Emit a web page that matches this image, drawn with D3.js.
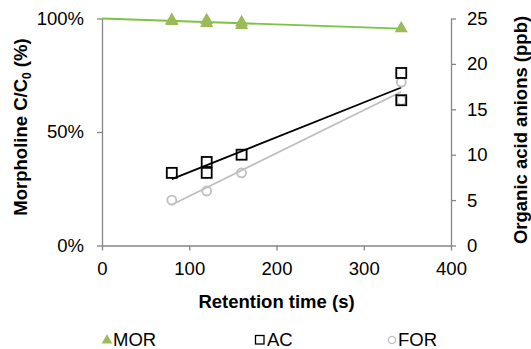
<!DOCTYPE html>
<html>
<head>
<meta charset="utf-8">
<script src="https://cdn.jsdelivr.net/npm/d3@7"></script>
<style>
body { margin: 0; background: #fff; }
svg text { font-family: "Liberation Sans", Arial, sans-serif; fill: #000; }
</style>
</head>
<body>
<div class="chart"></div>
<script>
// data
let morTime = [80, 80, 120, 120, 160, 160, 343];
let morValue = [0.993, 0.988, 0.992, 0.979, 0.983, 0.970, 0.956];
let acTime = [80, 120, 120, 160, 343, 343];
let acValue = [8, 9.2, 8, 10, 19, 16];
let forTime = [80, 120, 160, 343, 343];
let forValue = [5, 6, 8, 18, 16];

let xTicks = [0, 100, 200, 300, 400];
let leftTicks = [0, 0.5, 1];
let rightTicks = [0, 5, 10, 15, 20, 25];

let width = 531, height = 349;
let margin = { left: 102, right: 80, top: 18.5, bottom: 103.5 };

let svg = d3.select(".chart").append("svg").attr("width", width).attr("height", height);

let x = d3.scaleLinear().domain([0, 400]).range([margin.left, width - margin.right]);
let yL = d3.scaleLinear().domain([0, 1]).range([height - margin.bottom, margin.top]);
let yR = d3.scaleLinear().domain([0, 25]).range([height - margin.bottom, margin.top]);

let axisColor = "#868686";
let fs = 18.5;

function styleAxis(g) {
	g.selectAll("path, line").attr("stroke", axisColor).attr("stroke-width", 1.3);
	g.selectAll("text").attr("font-size", fs).attr("fill", "#000");
}

svg.append("g")
	.attr("transform", "translate(0," + yL(0) + ")")
	.call(d3.axisBottom(x).tickValues(xTicks).tickSize(5).tickSizeOuter(0).tickPadding(11))
	.call(styleAxis);

svg.append("g")
	.attr("transform", "translate(" + x(0) + ",0)")
	.call(d3.axisLeft(yL).tickValues(leftTicks).tickFormat(d3.format(".0%")).tickSize(5).tickSizeOuter(0).tickPadding(13))
	.call(styleAxis);

svg.append("g")
	.attr("transform", "translate(" + x(400) + ",0)")
	.call(d3.axisRight(yR).tickValues(rightTicks).tickSize(5).tickSizeOuter(0).tickPadding(11))
	.call(styleAxis);

// linear trendlines (least squares)
function fit(xs, ys) {
	let mx = d3.mean(xs), my = d3.mean(ys);
	let sxy = d3.sum(xs, (v, i) => (v - mx) * (ys[i] - my));
	let sxx = d3.sum(xs, v => (v - mx) * (v - mx));
	let b = sxy / sxx;
	return t => my + b * (t - mx);
}
// MOR trend with intercept fixed at 100%
let morSlope = d3.sum(morTime, (v, i) => v * (morValue[i] - 1)) / d3.sum(morTime, v => v * v);
let morFit = t => 1 + morSlope * t;
let acFit = fit(acTime, acValue);
let forFit = fit(forTime, forValue);

let line = d3.line();
function trend(f, y, x0, x1, color) {
	svg.append("path")
		.attr("fill", "none")
		.attr("stroke", color)
		.attr("stroke-width", 1.8)
		.attr("d", line([[x(x0), y(f(x0))], [x(x1), y(f(x1))]]));
}
trend(morFit, yL, 0, d3.max(morTime), "#7ec242");
trend(forFit, yR, d3.min(forTime), d3.max(forTime), "#bfbfbf");
trend(acFit, yR, d3.min(acTime), d3.max(acTime), "#000");

// markers
let tri = d3.symbol().type(d3.symbolTriangle).size(75);
svg.append("g").selectAll("path").data(morTime).join("path")
	.attr("d", tri)
	.attr("transform", (d, i) => "translate(" + x(d) + "," + yL(morValue[i]) + ")")
	.attr("fill", "#9bbb59");

svg.append("g").selectAll("circle").data(forTime).join("circle")
	.attr("cx", d => x(d))
	.attr("cy", (d, i) => yR(forValue[i]))
	.attr("r", 4.5)
	.attr("fill", "none")
	.attr("stroke", "#bfbfbf")
	.attr("stroke-width", 1.8);

svg.append("g").selectAll("rect").data(acTime).join("rect")
	.attr("x", d => x(d) - 5)
	.attr("y", (d, i) => yR(acValue[i]) - 5)
	.attr("width", 10)
	.attr("height", 10)
	.attr("fill", "none")
	.attr("stroke", "#000")
	.attr("stroke-width", 1.8);

// axis titles
svg.append("text")
	.attr("x", (x(0) + x(400)) / 2)
	.attr("y", 307.5)
	.attr("text-anchor", "middle")
	.attr("font-size", fs)
	.attr("font-weight", "bold")
	.text("Retention time (s)");

let leftTitle = svg.append("text")
	.attr("transform", "translate(27,127) rotate(-90)")
	.attr("text-anchor", "middle")
	.attr("font-size", fs)
	.attr("font-weight", "bold");
leftTitle.append("tspan").text("Morpholine C/C");
leftTitle.append("tspan").attr("font-size", 12).attr("dy", 4).text("0");
leftTitle.append("tspan").attr("dy", -4).text(" (%)");

svg.append("text")
	.attr("transform", "translate(527,130) rotate(-90)")
	.attr("text-anchor", "middle")
	.attr("font-size", fs)
	.attr("font-weight", "bold")
	.text("Organic acid anions (ppb)");

// legend
let legendY = 345.5;
let lg = svg.append("g");
lg.append("path").attr("d", d3.symbol().type(d3.symbolTriangle).size(50))
	.attr("transform", "translate(107," + (legendY - 5) + ")").attr("fill", "#9bbb59");
lg.append("text").attr("x", 113).attr("y", legendY).attr("font-size", fs).text("MOR");
lg.append("rect").attr("x", 255.5).attr("y", legendY - 10).attr("width", 8.5).attr("height", 8.5)
	.attr("fill", "none").attr("stroke", "#000").attr("stroke-width", 1.3);
lg.append("text").attr("x", 267).attr("y", legendY).attr("font-size", fs).text("AC");
lg.append("circle").attr("cx", 392).attr("cy", legendY - 5.5).attr("r", 3.6)
	.attr("fill", "none").attr("stroke", "#bfbfbf").attr("stroke-width", 1.3);
lg.append("text").attr("x", 398).attr("y", legendY).attr("font-size", fs).text("FOR");
</script>
</body>
</html>
